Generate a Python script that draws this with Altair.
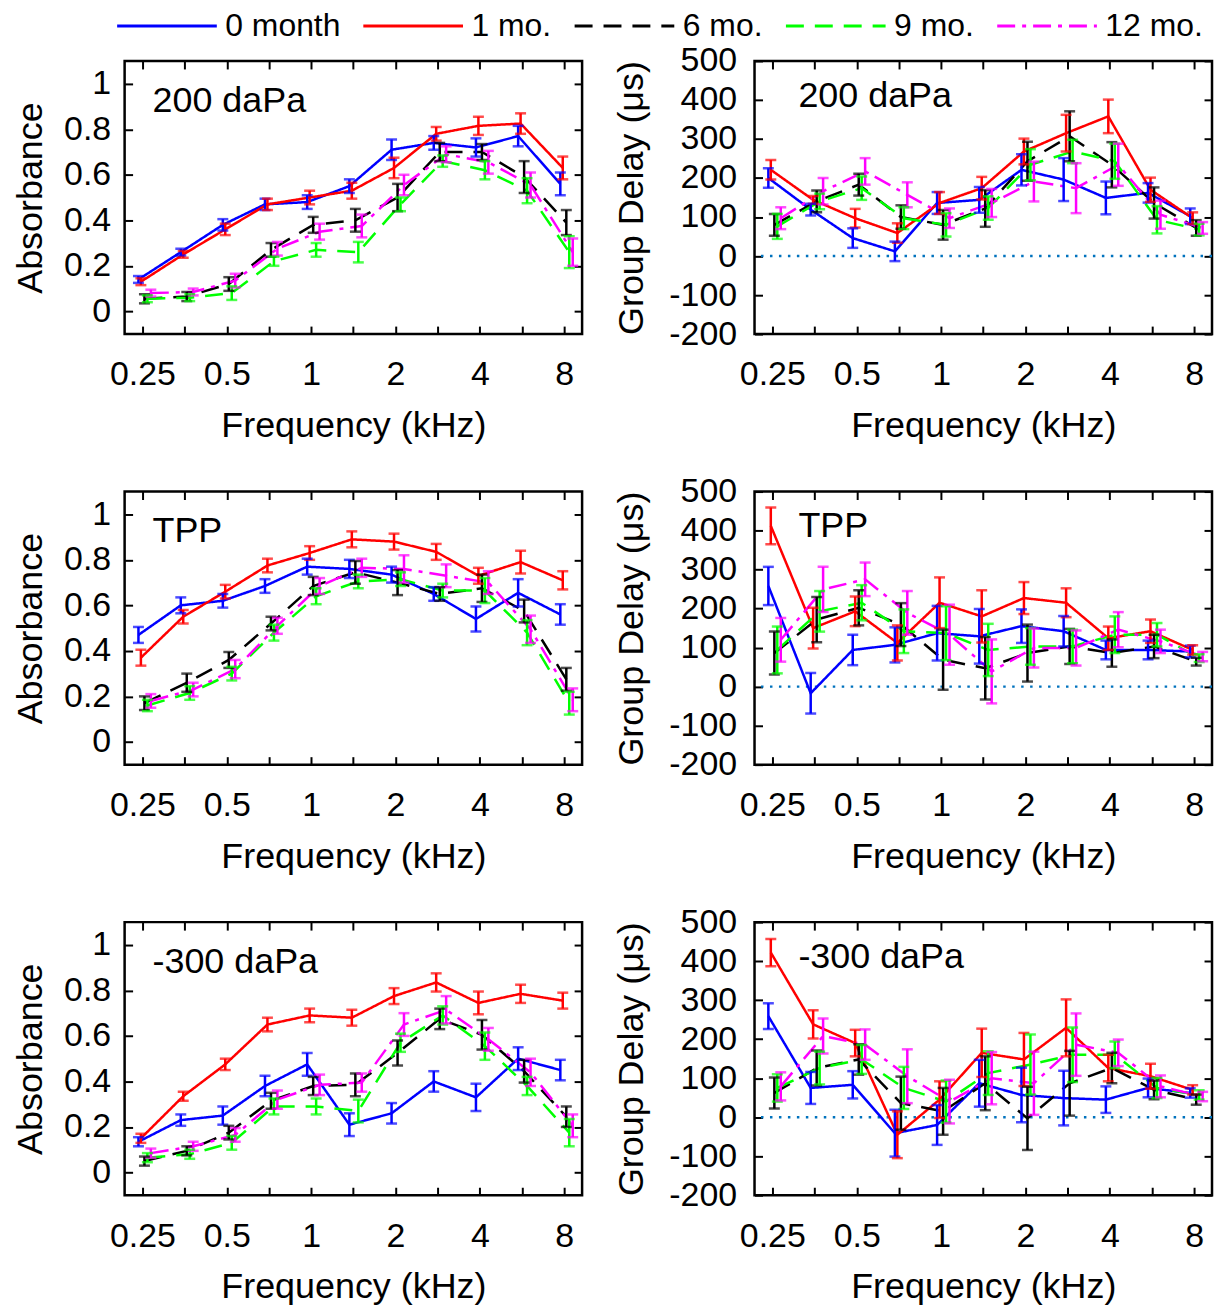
import altair as alt
import pandas as pd

# ---------------- data ----------------
FREQ_KHZ = [0.25, 0.354, 0.5, 0.707, 1.0, 1.414, 2.0, 2.828, 4.0, 5.657, 8.0]
SERIES = ["0 month", "1 mo.", "6 mo.", "9 mo.", "12 mo."]
PANEL_LABELS = ["200 daPa", "TPP", "-300 daPa"]
X_LABEL_VALUES = [0.25, 0.5, 1, 2, 4, 8]
ABS_TICKS = [0, 0.2, 0.4, 0.6, 0.8, 1]
GD_TICKS = [-200, -100, 0, 100, 200, 300, 400, 500]
ZERO_LINE = [0]

# Absorbance, 200 daPa (rows: 0 month, 1, 6, 9, 12 mo.)
ABS_200_MEAN = [
    [0.14, 0.26, 0.38, 0.47, 0.48, 0.55, 0.71, 0.74, 0.72, 0.77, 0.56],
    [0.13, 0.25, 0.36, 0.47, 0.50, 0.53, 0.63, 0.78, 0.815, 0.825, 0.63],
    [0.055, 0.065, 0.12, 0.27, 0.38, 0.40, 0.50, 0.70, 0.70, 0.59, 0.39],
    [0.055, 0.06, 0.08, 0.22, 0.27, 0.26, 0.47, 0.66, 0.62, 0.53, 0.26],
    [0.08, 0.085, 0.135, 0.275, 0.35, 0.375, 0.555, 0.69, 0.655, 0.555, 0.26],
]
ABS_200_ERR = [
    [0.015, 0.015, 0.025, 0.025, 0.03, 0.03, 0.045, 0.03, 0.04, 0.045, 0.05],
    [0.015, 0.015, 0.025, 0.025, 0.03, 0.035, 0.045, 0.03, 0.04, 0.045, 0.05],
    [0.02, 0.02, 0.03, 0.03, 0.035, 0.05, 0.06, 0.04, 0.035, 0.07, 0.055],
    [0.015, 0.015, 0.03, 0.02, 0.03, 0.045, 0.03, 0.025, 0.04, 0.055, 0.07],
    [0.015, 0.015, 0.03, 0.03, 0.035, 0.05, 0.045, 0.035, 0.05, 0.055, 0.06],
]
# Group delay (us), 200 daPa
GD_200_MEAN = [
    [200, 119, 46, 12, 136, 144, 221, 196, 149, 162, 102],
    [221, 144, 97, 59, 136, 174, 268, 315, 358, 170, 97],
    [80, 140, 183, 100, 80, 122, 243, 307, 234, 136, 72],
    [76, 140, 174, 97, 80, 123, 234, 268, 243, 93, 68],
    [97, 166, 217, 157, 97, 136, 191, 174, 234, 106, 72],
]
GD_200_ERR = [
    [25, 15, 25, 25, 28, 33, 40, 55, 42, 25, 20],
    [25, 10, 24, 25, 28, 29, 33, 47, 43, 31, 15],
    [28, 28, 28, 30, 38, 47, 50, 64, 58, 40, 20],
    [32, 20, 30, 28, 30, 30, 40, 30, 45, 35, 15],
    [28, 34, 34, 32, 25, 36, 51, 64, 54, 36, 15],
]
# Absorbance, TPP
ABS_TPP_MEAN = [
    [0.47, 0.60, 0.62, 0.685, 0.77, 0.76, 0.735, 0.65, 0.54, 0.655, 0.56],
    [0.37, 0.55, 0.66, 0.775, 0.83, 0.89, 0.88, 0.835, 0.73, 0.79, 0.71],
    [0.17, 0.26, 0.36, 0.52, 0.685, 0.745, 0.70, 0.65, 0.675, 0.575, 0.275],
    [0.16, 0.215, 0.30, 0.48, 0.64, 0.705, 0.715, 0.665, 0.665, 0.48, 0.17],
    [0.18, 0.23, 0.32, 0.51, 0.685, 0.765, 0.76, 0.73, 0.70, 0.495, 0.185],
]
ABS_TPP_ERR = [
    [0.035, 0.035, 0.03, 0.03, 0.035, 0.04, 0.035, 0.03, 0.055, 0.06, 0.045],
    [0.035, 0.03, 0.03, 0.03, 0.03, 0.035, 0.035, 0.035, 0.035, 0.05, 0.04],
    [0.03, 0.04, 0.035, 0.03, 0.04, 0.05, 0.055, 0.03, 0.06, 0.05, 0.05],
    [0.025, 0.03, 0.03, 0.035, 0.035, 0.03, 0.03, 0.03, 0.055, 0.055, 0.05],
    [0.03, 0.03, 0.04, 0.035, 0.035, 0.04, 0.06, 0.05, 0.05, 0.06, 0.05],
]
# Group delay (us), TPP
GD_TPP_MEAN = [
    [258, -17, 94, 107, 137, 129, 155, 142, 94, 94, 90],
    [412, 150, 193, 112, 215, 180, 227, 215, 124, 142, 94],
    [86, 172, 202, 159, 69, 47, 86, 103, 86, 103, 64],
    [94, 193, 215, 142, 137, 94, 103, 103, 133, 133, 73],
    [120, 249, 275, 189, 133, 39, 99, 99, 146, 116, 77],
]
GD_TPP_ERR = [
    [49, 52, 39, 45, 70, 70, 43, 39, 24, 24, 15],
    [47, 52, 38, 45, 65, 67, 41, 37, 30, 30, 12],
    [55, 58, 45, 55, 77, 80, 73, 45, 35, 30, 10],
    [60, 52, 45, 56, 69, 67, 47, 43, 47, 30, 10],
    [56, 58, 43, 56, 77, 82, 50, 45, 45, 30, 12],
]
# Absorbance, -300 daPa
ABS_300_MEAN = [
    [0.135, 0.23, 0.25, 0.38, 0.475, 0.21, 0.26, 0.40, 0.33, 0.50, 0.45],
    [0.15, 0.335, 0.475, 0.65, 0.69, 0.68, 0.775, 0.835, 0.745, 0.785, 0.755],
    [0.05, 0.095, 0.175, 0.315, 0.38, 0.385, 0.525, 0.675, 0.605, 0.445, 0.245],
    [0.065, 0.08, 0.13, 0.29, 0.29, 0.27, 0.57, 0.69, 0.555, 0.38, 0.175],
    [0.085, 0.115, 0.165, 0.32, 0.385, 0.395, 0.65, 0.715, 0.585, 0.44, 0.205],
]
ABS_300_ERR = [
    [0.02, 0.025, 0.04, 0.045, 0.05, 0.05, 0.045, 0.045, 0.06, 0.05, 0.045],
    [0.02, 0.02, 0.025, 0.03, 0.03, 0.035, 0.035, 0.04, 0.05, 0.04, 0.035],
    [0.02, 0.02, 0.03, 0.035, 0.04, 0.05, 0.055, 0.045, 0.065, 0.05, 0.045],
    [0.02, 0.02, 0.03, 0.035, 0.035, 0.05, 0.04, 0.04, 0.06, 0.04, 0.06],
    [0.02, 0.02, 0.03, 0.04, 0.045, 0.04, 0.05, 0.06, 0.05, 0.06, 0.05],
]
# Group delay (us), -300 daPa
GD_300_MEAN = [
    [259, 75, 83, -41, -20, 87, 57, 49, 45, 75, 62],
    [422, 238, 190, -45, 45, 165, 148, 229, 126, 105, 70],
    [62, 126, 148, 36, 15, 87, -3, 87, 126, 70, 45],
    [75, 126, 148, 75, 40, 113, 135, 160, 160, 75, 57],
    [79, 208, 186, 105, 40, 100, 87, 186, 165, 79, 53],
]
GD_300_ERR = [
    [33, 41, 35, 60, 51, 60, 70, 70, 34, 24, 12],
    [35, 36, 34, 60, 47, 62, 68, 73, 34, 32, 12],
    [40, 45, 39, 68, 60, 69, 81, 83, 39, 24, 13],
    [35, 42, 37, 54, 54, 56, 77, 70, 34, 26, 12],
    [36, 45, 39, 69, 56, 67, 81, 80, 34, 28, 12],
]

# ---------------- style ----------------
COLORS = ["#0000FF", "#FF0000", "#000000", "#00FF00", "#FF00FF"]
DASHES = [[1, 0], [1, 0], [18, 11], [18, 11], [18, 7, 4, 7]]
DODGE_OCT = [-0.047, -0.018, 0.024, 0.059, 0.1]  # small horizontal dodge (octaves)
FONT = "Liberation Sans"
W, H = 459, 274
XDOM = [0.216, 9.26]


def make_df(means, errs):
    rows = []
    for si, name in enumerate(SERIES):
        for fi, f in enumerate(FREQ_KHZ):
            m = means[si][fi]
            e = errs[si][fi]
            rows.append({"series": name, "si": si, "f": f, "mean": m, "lo": m - e, "hi": m + e})
    return pd.DataFrame(rows)


LEG = alt.Legend(
    orient="none", legendX=-9, legendY=-50, direction="horizontal", columns=5,
    title=None, symbolType="stroke", symbolSize=10000, symbolStrokeWidth=3,
    clipHeight=30, labelFontSize=32, labelFont=FONT, labelColor="black",
    labelOffset=7, columnPadding=21, padding=0,
)


def panel(means, errs, kind, label):
    df = make_df(means, errs)
    is_abs = kind == "abs"
    ydom = [-0.1, 1.1] if is_abs else [-200, 500]
    yticks = ABS_TICKS if is_abs else GD_TICKS
    ytitle = "Absorbance" if is_abs else "Group Delay  (\u03bcs)"
    xs = alt.Scale(type="log", base=2, domain=XDOM, nice=False)
    ys = alt.Scale(domain=ydom, nice=False, zero=False)

    x_lab = alt.Axis(orient="bottom", values=X_LABEL_VALUES, labelExpr="toString(datum.value)",
                     ticks=False, tickSize=0, domain=False, grid=False, title="Frequency (kHz)",
                     labelPadding=24, titlePadding=17, labelFlush=False, labelOverlap=False)
    y_lab = alt.Axis(orient="left", values=yticks, labelExpr="toString(datum.value)",
                     ticks=False, tickSize=0, domain=False, grid=False, title=ytitle,
                     labelPadding=14 if is_abs else 18, titlePadding=14 if is_abs else 18,
                     labelFlush=False, labelOverlap=False)
    tick_common = dict(labels=False, ticks=True, tickSize=8, offset=-8, domain=False,
                       grid=False, title=None)
    x_tb = alt.Axis(orient="bottom", values=FREQ_KHZ, **tick_common)
    x_tt = alt.Axis(orient="top", values=FREQ_KHZ, **tick_common)
    y_tl = alt.Axis(orient="left", values=yticks, **tick_common)
    y_tr = alt.Axis(orient="right", values=yticks, **tick_common)

    base = alt.Chart(df).transform_calculate(
        fx="datum.f * pow(2, " + str(DODGE_OCT) + "[datum.si])"
    )
    color = alt.Color("series:N", scale=alt.Scale(domain=SERIES, range=COLORS), sort=SERIES, legend=LEG)
    dash = alt.StrokeDash("series:N", scale=alt.Scale(domain=SERIES, range=DASHES), sort=SERIES, legend=LEG)
    color_nl = alt.Color("series:N", legend=None)

    layers = []
    if not is_abs:
        layers.append(
            alt.Chart(pd.DataFrame({"z": ZERO_LINE})).mark_rule(
                color="#0072BD", strokeDash=[2.5, 6.5], strokeWidth=2.5
            ).encode(y=alt.Y("z:Q", scale=ys, axis=None))
        )
    lines = base.mark_line(strokeWidth=2.5).encode(
        x=alt.X("fx:Q", scale=xs, axis=x_lab),
        y=alt.Y("mean:Q", scale=ys, axis=y_lab),
        color=color, strokeDash=dash, detail="series:N",
    )
    bars = base.mark_rule(strokeWidth=2.5).encode(
        x=alt.X("fx:Q", axis=x_tb), y=alt.Y("lo:Q", axis=y_tl), y2="hi:Q", color=color_nl,
    )
    cap_lo = base.mark_tick(orient="horizontal", size=11, thickness=2.5).encode(
        x=alt.X("fx:Q", axis=x_tt), y=alt.Y("lo:Q", axis=y_tr), color=color_nl,
    )
    cap_hi = base.mark_tick(orient="horizontal", size=11, thickness=2.5).encode(
        x=alt.X("fx:Q", axis=None), y=alt.Y("hi:Q", axis=None), color=color_nl,
    )
    tx, ty = (28, 40) if is_abs else (44, 35)
    text = alt.Chart(pd.DataFrame({"label": [label]})).mark_text(
        align="left", baseline="middle", fontSize=36, font=FONT, color="black"
    ).encode(x=alt.value(tx), y=alt.value(ty), text="label:N")
    layers += [lines, bars, cap_lo, cap_hi, text]
    return alt.layer(*layers).resolve_axis(x="independent", y="independent").properties(width=W, height=H)


panels = [
    panel(ABS_200_MEAN, ABS_200_ERR, "abs", PANEL_LABELS[0]),
    panel(GD_200_MEAN, GD_200_ERR, "gd", PANEL_LABELS[0]),
    panel(ABS_TPP_MEAN, ABS_TPP_ERR, "abs", PANEL_LABELS[1]),
    panel(GD_TPP_MEAN, GD_TPP_ERR, "gd", PANEL_LABELS[1]),
    panel(ABS_300_MEAN, ABS_300_ERR, "abs", PANEL_LABELS[2]),
    panel(GD_300_MEAN, GD_300_ERR, "gd", PANEL_LABELS[2]),
]

chart = alt.concat(*panels, columns=2, spacing={"row": 158, "column": 173}, bounds="flush").properties(
    padding={"left": 3, "top": 1, "right": 0, "bottom": 0}
).configure_view(
    stroke="black", strokeWidth=2.5
).configure_axis(
    grid=False, labelFont=FONT, titleFont=FONT, labelColor="black", titleColor="black",
    tickColor="black", tickWidth=2, labelFontSize=34, titleFontSize=36, titleFontWeight="normal",
)

chart.save("out.html", embed_options={"renderer": "svg", "actions": False})
